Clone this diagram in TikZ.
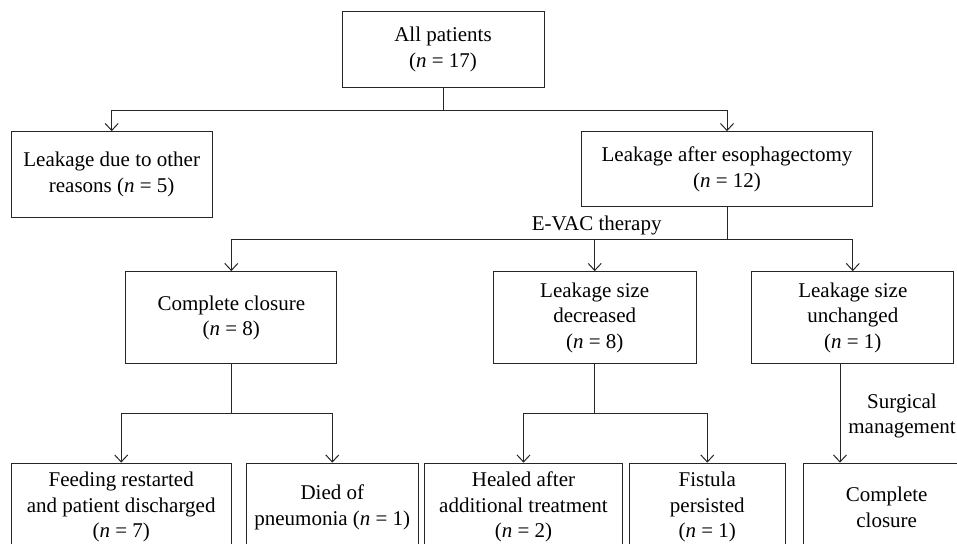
\documentclass[tikz,border=0pt]{standalone}
\usepackage{fontspec}
\setmainfont{Liberation Serif}
\usetikzlibrary{arrows.meta}
\begin{document}
\begin{tikzpicture}[x=1pt,y=-1pt,
  box/.style={draw=black!85,line width=1pt,align=center,inner sep=0pt,
    font=\fontsize{21}{25.7}\selectfont},
  lbl/.style={align=center,inner sep=0pt,font=\fontsize{21}{25.7}\selectfont},
  link/.style={draw=black!85,line width=1pt},
  arr/.style={link,-{Straight Barb[length=7pt,width=13pt,line width=1pt]}}]
\clip (0,0) rectangle (957,543);
\fill[white] (0,0) rectangle (957,543);
\node[box,minimum width=202pt,minimum height=75pt] (top) at (443,49.5) {All patients\\(\textit{n} = 17)};
\node[box,minimum width=201pt,minimum height=85.6pt] (other) at (111.7,174.5) {Leakage due to other\\reasons (\textit{n} = 5)};
\node[box,minimum width=290.6pt,minimum height=75pt] (esoph) at (727,169.2) {Leakage after esophagectomy\\(\textit{n} = 12)};
\node[box,minimum width=210.7pt,minimum height=92.3pt] (cc) at (231.3,317.8) {Complete closure\\(\textit{n} = 8)};
\node[box,minimum width=202.7pt,minimum height=92.3pt] (dec) at (594.7,317.8) {Leakage size\\decreased\\(\textit{n} = 8)};
\node[box,minimum width=202.3pt,minimum height=92.3pt] (unch) at (852.8,317.8) {Leakage size\\unchanged\\(\textit{n} = 1)};
\node[box,minimum width=220.3pt,minimum height=87.7pt] (feed) at (121.2,507) {Feeding restarted\\and patient discharged\\(\textit{n} = 7)};
\node[box,minimum width=172pt,minimum height=87.7pt] (died) at (332.3,507) {Died of\\pneumonia (\textit{n} = 1)};
\node[box,minimum width=198.4pt,minimum height=87.7pt] (healed) at (523.5,507) {Healed after\\additional treatment\\(\textit{n} = 2)};
\node[box,minimum width=156pt,minimum height=87.7pt] (fist) at (707.3,507) {Fistula\\persisted\\(\textit{n} = 1)};
\node[box,minimum width=166.8pt,minimum height=87.7pt] (cc2) at (886.7,507) {Complete\\closure};
\node[lbl] (evac) at (596.7,225) {E-VAC therapy};
\node[lbl] (surg) at (902,416) {Surgical\\management};
\coordinate (j1) at (443,110);
\coordinate (j2) at (727,239);
\coordinate (j3) at (231.3,413.7);
\coordinate (j4) at (594.7,413.7);
\coordinate (u1) at ([xshift=-12.8pt]unch.south);
\draw[link] (top.south) -- (j1);
\draw[arr] (j1) -| (other.north);
\draw[arr] (j1) -| (esoph.north);
\draw[link] (esoph.south) -- (j2);
\draw[arr] (j2) -| (cc.north);
\draw[arr] (j2) -- (dec.north |- j2) -- (dec.north);
\draw[arr] (j2) -| (unch.north);
\draw[link] (cc.south) -- (j3);
\draw[arr] (j3) -| (feed.north);
\draw[arr] (j3) -| (died.north);
\draw[link] (dec.south) -- (j4);
\draw[arr] (j4) -| (healed.north);
\draw[arr] (j4) -| (fist.north);
\draw[arr] (u1) -- (u1 |- cc2.north);
\end{tikzpicture}
\end{document}
